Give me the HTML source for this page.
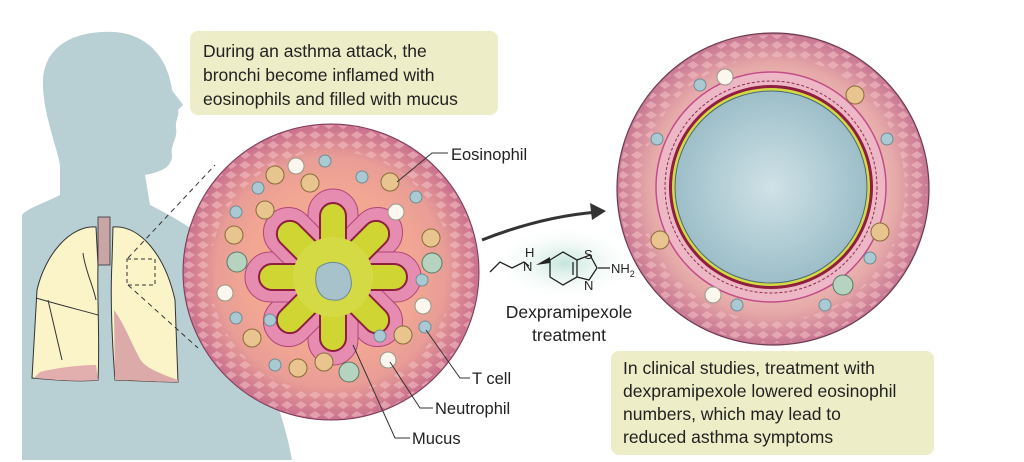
<!DOCTYPE html>
<html><head><meta charset="utf-8"><style>
html,body{margin:0;padding:0;background:#fff;}
svg{display:block}
text{font-family:"Liberation Sans",sans-serif;fill:#222}
</style></head><body>
<svg width="1024" height="462" viewBox="0 0 1024 462">
<defs>
<radialGradient id="tis" cx="50%" cy="50%" r="50%">
<stop offset="0.55" stop-color="#f2a793"/><stop offset="0.78" stop-color="#e89d96"/><stop offset="1" stop-color="#c9708e"/>
</radialGradient>
<radialGradient id="tis2" cx="50%" cy="50%" r="50%">
<stop offset="0.6" stop-color="#f1c3b6"/><stop offset="0.8" stop-color="#e5a8a8"/><stop offset="1" stop-color="#c87793"/>
</radialGradient>
<radialGradient id="lum" cx="50%" cy="50%" r="50%"><stop offset="0" stop-color="#cfe2e7"/><stop offset="1" stop-color="#9dbec8"/></radialGradient>
<radialGradient id="drug" cx="50%" cy="50%" r="50%"><stop offset="0" stop-color="#c4e5db"/><stop offset="1" stop-color="#ffffff" stop-opacity="0"/></radialGradient>
<pattern id="scale" width="14" height="10" patternUnits="userSpaceOnUse"><path d="M1 5 L7 1 L13 5 L7 9Z" fill="#f3c0c4" opacity="0.55"/></pattern>
<clipPath id="cl1"><circle cx="331" cy="272" r="147"/></clipPath>
<clipPath id="cl2"><circle cx="773" cy="189" r="155"/></clipPath>
</defs>

<path d="M22 215 L22 460 L292 460 C285 420 270 385 262 360 L250 300 C240 260 200 230 150 205 L145 175 C160 172 172 168 172 155 C170 145 178 138 176 128 C175 120 180 115 178 110 L183 105 C180 100 175 95 172 90 C168 60 150 35 115 32 C75 30 45 45 43 80 C42 110 55 140 60 165 L60 195 C40 205 28 208 22 215Z" fill="#b8cfd4"/>

<path d="M96 227 C70 225 45 255 37 290 L32 378 C55 380 80 382 98 380 C100 340 97 300 98 265Z" fill="#fbf4c8" stroke="#333" stroke-width="1"/>
<path d="M34 378 C55 380 80 382 98 380 L96 365 C80 365 55 368 40 372Z" fill="#e2aeae"/>
<path d="M113 227 C140 225 165 255 175 300 L178 382 C150 382 130 380 115 380 C112 340 110 300 112 262Z" fill="#fbf4c8" stroke="#333" stroke-width="1"/>
<path d="M114 310 C125 325 132 345 138 355 C142 365 150 370 178 380 L178 382 C150 382 130 380 115 380Z" fill="#dcaaa8"/>
<path d="M36 298 C60 305 80 310 98 315 M83 253 C85 270 93 285 96 300 M48 300 L62 360" stroke="#333" fill="none" stroke-width="1"/>
<rect x="98" y="217" width="12" height="48" fill="#c9a6a6" stroke="#333" stroke-width="0.8"/>
<rect x="127" y="259" width="28" height="26" fill="none" stroke="#333" stroke-width="1" stroke-dasharray="4 3"/>
<path d="M128 258 L215 165 M128 285 L198 348" stroke="#333" stroke-dasharray="5 4" fill="none"/>

<rect x="190" y="31" width="308" height="84" rx="8" fill="#ededc7"/>
<text x="203" y="57" font-size="17.5">During an asthma attack, the</text>
<text x="203" y="81" font-size="17.5">bronchi become inflamed with</text>
<text x="203" y="105" font-size="17.5">eosinophils and filled with mucus</text>

<circle cx="331" cy="272" r="148" fill="url(#tis)" stroke="#7a3a58" stroke-width="1"/>
<g clip-path="url(#cl1)"><circle cx="331" cy="272" r="134" fill="none" stroke="url(#scale)" stroke-width="26"/></g>
<g transform="translate(333,277)">
<g fill="#e58cb0" stroke="#b2457a" stroke-width="1">
<g id="lobe"><rect x="-25" y="-88" width="50" height="66" rx="25"/></g>
<use href="#lobe" transform="rotate(45)"/><use href="#lobe" transform="rotate(90)"/><use href="#lobe" transform="rotate(135)"/>
<use href="#lobe" transform="rotate(180)"/><use href="#lobe" transform="rotate(225)"/><use href="#lobe" transform="rotate(270)"/><use href="#lobe" transform="rotate(315)"/>
</g>
<g fill="#cfd634" stroke="#8e1f3e" stroke-width="2">
<g id="fy"><rect x="-13" y="-74" width="26" height="52" rx="13"/></g>
<use href="#fy" transform="rotate(45)"/><use href="#fy" transform="rotate(90)"/><use href="#fy" transform="rotate(135)"/>
<use href="#fy" transform="rotate(180)"/><use href="#fy" transform="rotate(225)"/><use href="#fy" transform="rotate(270)"/><use href="#fy" transform="rotate(315)"/>
</g>
<circle r="40" fill="#d4da44"/>
<path d="M-15 -9 C-3 -19 15 -15 17 -2 C22 13 12 25 0 23 C-15 23 -21 5 -15 -9Z" fill="#a7c2cb" stroke="#6a8a94"/>
</g>
<g stroke="#6f8c95" stroke-width="1" fill="#a9cad3">
<circle cx="325" cy="161" r="6"/><circle cx="362" cy="177" r="6"/><circle cx="258" cy="188" r="6"/><circle cx="236" cy="212" r="6"/>
<circle cx="416" cy="197" r="6"/><circle cx="422" cy="280" r="6"/><circle cx="425" cy="327" r="6"/><circle cx="236" cy="318" r="6"/>
<circle cx="270" cy="320" r="6"/><circle cx="380" cy="336" r="6"/><circle cx="275" cy="365" r="6"/>
</g>
<g stroke="#8a6a3a" stroke-width="1" fill="#e8c48e">
<circle cx="275" cy="175" r="9"/><circle cx="310" cy="183" r="9"/><circle cx="390" cy="182" r="9"/><circle cx="265" cy="210" r="9"/>
<circle cx="234" cy="235" r="9"/><circle cx="431" cy="238" r="9"/><circle cx="252" cy="338" r="9"/><circle cx="403" cy="335" r="9"/>
<circle cx="298" cy="368" r="9"/><circle cx="324" cy="362" r="9"/>
</g>
<g stroke="#557a66" fill="#b5d3be"><circle cx="237" cy="262" r="10"/><circle cx="432" cy="263" r="10"/><circle cx="349" cy="372" r="10"/></g>
<g stroke="#998" fill="#fbf7ee"><circle cx="296" cy="166" r="8"/><circle cx="396" cy="212" r="8"/><circle cx="225" cy="293" r="8"/><circle cx="423" cy="306" r="8"/><circle cx="388" cy="360" r="8"/></g>

<g stroke="#333" fill="none" stroke-width="1">
<path d="M397 182 L432 153 L448 153"/><path d="M426 330 L460 378 L470 378"/><path d="M390 362 L420 408 L433 408"/><path d="M353 345 L395 438 L410 438"/>
</g>
<text x="451" y="160" font-size="16.5">Eosinophil</text>
<text x="472" y="384" font-size="16.5">T cell</text>
<text x="435" y="414" font-size="16.5">Neutrophil</text>
<text x="412" y="444" font-size="16.5">Mucus</text>

<circle cx="773" cy="189" r="156" fill="url(#tis2)" stroke="#6a3a50" stroke-width="1.2"/>
<g clip-path="url(#cl2)"><circle cx="773" cy="189" r="143" fill="none" stroke="url(#scale)" stroke-width="22"/></g>
<circle cx="771" cy="187" r="115" fill="#eeb7c6" stroke="#c24d8a" stroke-width="1.5"/>
<circle cx="771" cy="187" r="106" fill="none" stroke="#8a3050" stroke-width="1" stroke-dasharray="3 2"/>
<circle cx="771" cy="187" r="102" fill="#8e1f3e"/>
<circle cx="771" cy="187" r="99" fill="#d4da44"/>
<circle cx="771" cy="187" r="96" fill="url(#lum)" stroke="#4a6a74"/>
<g stroke="#6f8c95" fill="#a9cad3"><circle cx="700" cy="85" r="6"/><circle cx="657" cy="139" r="6"/><circle cx="887" cy="139" r="6"/><circle cx="870" cy="258" r="6"/><circle cx="825" cy="305" r="6"/><circle cx="737" cy="305" r="6"/></g>
<g stroke="#8a6a3a" fill="#e8c48e"><circle cx="660" cy="240" r="9"/><circle cx="855" cy="95" r="9"/><circle cx="880" cy="232" r="9"/></g>
<g stroke="#998" fill="#fbf7ee"><circle cx="725" cy="77" r="8"/><circle cx="713" cy="295" r="8"/></g>
<g stroke="#557a66" fill="#b5d3be"><circle cx="843" cy="285" r="10"/></g>

<path d="M482 240 C520 225 560 215 598 212" stroke="#333" stroke-width="3" fill="none"/>
<path d="M606 211 L590 203 L592 220Z" fill="#333"/>

<ellipse cx="565" cy="263" rx="72" ry="38" fill="url(#drug)"/>
<g stroke="#222" stroke-width="1.3" fill="none">
<path d="M490 272 L500 262 L512 268 L524 262 L529 266"/>
<path d="M550 260 L563 252 L577 260 L577 277 L563 285 L550 277 Z"/>
<path d="M577 260 L590 255 L597 268 L589 280 L577 277"/>
<path d="M598 268 L610 268 M573 262 L573 275"/>
</g>
<path d="M536 265 L550 257 L550 263Z" fill="#222"/>
<text x="525" y="257" font-size="13">H</text><text x="523" y="271" font-size="13">N</text>
<text x="584" y="259" font-size="13">S</text><text x="584" y="290" font-size="13">N</text>
<text x="611" y="273" font-size="13">NH<tspan font-size="9" dy="4">2</tspan></text>
<text x="569" y="318" font-size="17.5" text-anchor="middle">Dexpramipexole</text>
<text x="569" y="341" font-size="17.5" text-anchor="middle">treatment</text>

<rect x="611" y="351" width="323" height="104" rx="8" fill="#ededc7"/>
<text x="623" y="374" font-size="17.5">In clinical studies, treatment with</text>
<text x="623" y="397" font-size="17.5">dexpramipexole lowered eosinophil</text>
<text x="623" y="420" font-size="17.5">numbers, which may lead to</text>
<text x="623" y="443" font-size="17.5">reduced asthma symptoms</text>
</svg>
</body></html>
